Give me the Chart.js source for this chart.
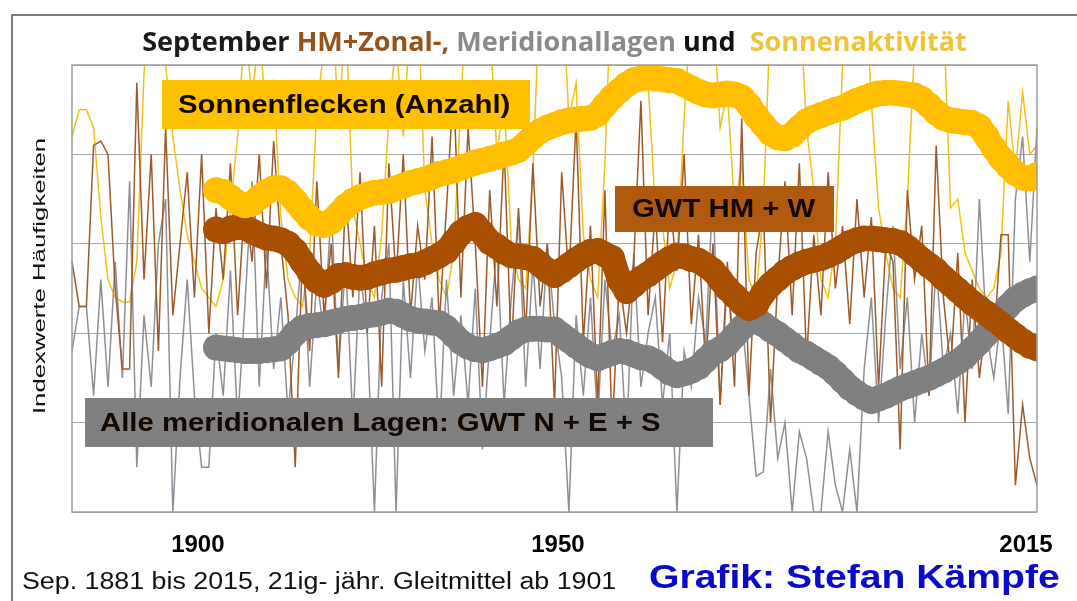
<!DOCTYPE html>
<html><head><meta charset="utf-8">
<script src="https://cdn.jsdelivr.net/npm/chart.js@4.4.1/dist/chart.umd.min.js"></script>
<style>
html,body{margin:0;padding:0;background:#fff;}
#wrap{position:relative;width:1077px;height:601px;overflow:hidden;background:#fff;}
#c{position:absolute;left:0;top:0;}
.frame{position:absolute;left:11px;top:14px;width:1200px;height:800px;border-top:2px solid #7c7c7c;border-left:2px solid #7c7c7c;}
.t{position:absolute;white-space:nowrap;font-family:"Liberation Sans",Arial,sans-serif;line-height:1;}
.title{left:72px;width:965px;top:27.4px;text-align:center;font-family:"Open Sans",sans-serif;font-weight:700;font-size:27px;}
.box{position:absolute;display:flex;align-items:center;font-family:"Liberation Sans",Arial,sans-serif;font-weight:700;font-size:25.5px;line-height:1;color:#120800;white-space:nowrap;}
.box span{display:inline-block;transform:scaleX(1.15);transform-origin:left center;}
.ytitle{left:39px;top:276px;font-size:16.5px;color:#111;transform:translate(-50%,-50%) rotate(-90deg) scaleX(1.56);}
.foot1{left:22px;top:569.6px;font-size:23.3px;color:#111;transform:scaleX(1.15);transform-origin:left top;}
.foot2{left:649px;top:559.3px;font-size:34px;font-weight:700;color:#0a0ac8;transform:scaleX(1.15);transform-origin:left top;}
</style>
</head><body>
<div id="wrap">
<canvas id="c" width="1077" height="601"></canvas>
<div class="frame"></div>
<div class="t title"><span style="color:#1b1b1b">September</span> <span style="color:#94521e">HM+Zonal-,</span> <span style="color:#8a8a8a">Meridionallagen</span> <span style="color:#111">und</span>&nbsp; <span style="color:#eec43c">Sonnenaktivität</span></div>
<div class="box" style="left:162px;top:80px;width:368px;height:49px;background:#ffc000;padding-left:16px;box-sizing:border-box;"><span>Sonnenflecken (Anzahl)</span></div>
<div class="box" style="left:615px;top:186px;width:219px;height:46px;background:#b05a10;padding-left:17px;box-sizing:border-box;"><span>GWT HM + W</span></div>
<div class="box" style="left:85px;top:398px;width:628px;height:49px;background:#808080;padding-left:15px;box-sizing:border-box;"><span>Alle meridionalen Lagen: GWT N + E + S</span></div>
<div class="t ytitle">Indexwerte Häufigkeiten</div>
<div class="t foot1">Sep. 1881 bis 2015, 21ig- jähr. Gleitmittel ab 1901</div>
<div class="t foot2">Grafik: Stefan Kämpfe</div>
</div>
<script>
// ---- data ----
const firstYear = 1881;          // yearly series start
const smoothFirstYear = 1901;    // 21-year running means start
const xTickYears = [1900, 1950, 2015];

// thin yearly lines (index values)
const sunspotsYearly = [
 4.2,4.5,4.5,4.3,3.3,2.6,2.4,2.35,2.35,2.8,
 4.9,6.0,5.8,5.0,4.2,3.6,3.1,2.8,2.5,2.4,
 2.3,2.6,3.4,4.2,5.5,4.6,5.4,4.4,4.8,3.3,
 2.6,2.4,2.3,2.9,4.5,5.2,6.0,4.3,5.6,3.4,
 3.0,2.6,2.4,3.1,4.4,5.3,4.2,5.6,5.8,3.6,
 3.0,2.6,2.4,2.9,4.6,6.0,5.8,6.2,5.5,4.0,
 4.6,3.0,2.6,2.5,3.8,5.9,6.5,5.7,6.0,4.4,
 4.8,3.1,2.6,2.4,3.9,6.2,6.8,6.5,6.3,5.6,
 4.8,3.4,3.2,2.5,2.8,4.4,5.7,5.8,5.5,5.7,
 4.3,4.7,3.4,3.9,2.6,2.4,3.4,5.6,6.5,6.2,
 6.1,5.8,4.3,3.6,2.6,2.4,3.0,5.0,6.5,5.6,
 6.2,4.6,3.4,2.9,2.5,2.4,3.5,5.2,5.5,6.0,
 6.2,5.6,3.4,3.5,2.9,2.7,2.5,2.4,2.5,2.9,
 4.6,3.8,4.7,4.0,4.1
];
const hmWestYearly = [
 2.8,2.3,2.3,4.1,4.15,4.0,2.5,1.6,1.6,4.8,
 2.6,4.0,1.8,4.3,2.2,3.0,3.8,2.4,4.0,2.0,
 3.4,2.6,3.9,2.2,3.5,2.8,4.0,2.5,4.15,3.0,
 2.2,0.5,2.9,1.8,3.7,2.2,3.0,1.5,3.6,2.4,
 3.8,2.0,3.2,1.4,3.9,2.6,4.0,2.2,3.2,2.6,
 4.2,2.1,3.4,4.8,2.4,4.3,3.0,1.4,3.6,2.3,
 4.1,1.8,3.4,2.0,3.9,2.3,3.0,1.2,3.8,2.6,
 4.4,1.9,3.2,1.2,3.6,0.9,2.6,2.0,2.8,4.6,
 2.2,3.4,1.9,3.5,2.7,4.0,2.1,3.1,1.6,3.0,
 1.2,2.8,1.4,4.4,1.3,2.9,3.4,1.0,2.6,3.7,
 2.2,3.9,1.7,3.1,2.2,3.8,2.5,3.2,2.1,3.5,
 2.4,3.3,1.4,3.0,2.8,0.7,3.6,2.6,3.2,1.3,
 4.1,2.4,1.6,2.9,1.0,2.6,1.5,2.2,1.9,3.1,
 3.1,0.3,1.2,0.6,0.3
];
const meridionalYearly = [
 1.8,2.3,2.3,1.3,2.6,1.4,2.8,1.5,3.7,0.5,
 2.2,1.4,3.0,3.5,0.0,1.5,2.6,1.3,0.5,0.5,
 2.0,1.3,2.7,1.0,2.3,3.7,1.4,3.0,1.6,2.4,
 1.1,2.0,3.0,1.4,2.6,2.0,3.4,1.6,2.8,1.0,
 2.7,2.0,0.0,2.4,3.0,0.0,2.6,1.5,2.8,1.8,
 2.4,0.8,2.6,1.3,2.2,1.2,2.5,0.7,1.9,3.0,
 1.2,2.4,3.3,1.4,2.8,1.6,3.0,2.1,1.5,0.0,
 2.2,1.3,2.4,1.0,2.6,1.8,2.2,0.8,2.9,1.4,
 2.0,2.4,1.2,2.0,0.0,1.8,1.4,2.4,1.9,3.6,
 1.2,2.6,1.8,2.2,1.3,0.4,0.45,1.6,0.6,1.0,
 0.0,0.9,0.6,0.0,0.0,0.9,0.3,0.0,0.7,0.0,
 1.6,2.4,1.0,2.2,3.2,1.6,2.4,1.0,2.0,1.3,
 2.8,1.6,2.0,1.1,2.4,1.6,3.5,2.0,1.5,2.2,
 1.1,3.5,4.2,2.8,4.3
];

// thick 21-year running means, 1901-2015
const sunspotsSmooth = [
 3.60,3.58,3.52,3.46,3.43,3.45,3.52,3.58,3.62,3.62,
 3.57,3.48,3.38,3.29,3.23,3.21,3.25,3.33,3.42,3.48,
 3.52,3.55,3.57,3.58,3.59,3.62,3.65,3.68,3.70,3.72,
 3.75,3.78,3.80,3.82,3.85,3.88,3.91,3.93,3.95,3.97,
 4.00,4.02,4.05,4.12,4.20,4.26,4.30,4.33,4.36,4.38,
 4.39,4.40,4.41,4.45,4.55,4.64,4.71,4.78,4.83,4.85,
 4.86,4.85,4.84,4.83,4.82,4.78,4.74,4.70,4.67,4.66,
 4.67,4.68,4.67,4.64,4.55,4.43,4.33,4.24,4.19,4.18,
 4.22,4.30,4.37,4.41,4.44,4.47,4.50,4.52,4.56,4.60,
 4.63,4.66,4.68,4.69,4.69,4.68,4.67,4.66,4.62,4.55,
 4.47,4.41,4.38,4.37,4.36,4.35,4.31,4.20,4.07,3.96,
 3.87,3.79,3.74,3.73,3.77
];
const hmWestSmooth = [
 3.16,3.14,3.17,3.19,3.18,3.14,3.10,3.07,3.06,3.04,
 3.00,2.92,2.80,2.68,2.59,2.54,2.58,2.64,2.65,2.63,
 2.62,2.63,2.66,2.68,2.70,2.71,2.73,2.75,2.76,2.79,
 2.83,2.87,2.92,3.02,3.12,3.18,3.21,3.12,3.02,2.97,
 2.91,2.87,2.86,2.85,2.83,2.77,2.70,2.65,2.70,2.76,
 2.82,2.87,2.91,2.92,2.88,2.84,2.60,2.47,2.54,2.61,
 2.66,2.72,2.78,2.83,2.87,2.86,2.83,2.81,2.76,2.70,
 2.60,2.50,2.42,2.34,2.28,2.32,2.45,2.54,2.61,2.68,
 2.73,2.77,2.80,2.82,2.84,2.87,2.91,2.96,3.01,3.04,
 3.06,3.06,3.05,3.04,3.03,3.01,2.96,2.89,2.82,2.76,
 2.70,2.62,2.55,2.48,2.41,2.34,2.28,2.22,2.16,2.10,
 2.03,1.97,1.91,1.86,1.83
];
const meridionalSmooth = [
 1.84,1.83,1.82,1.81,1.80,1.80,1.80,1.81,1.82,1.83,
 1.90,2.00,2.06,2.08,2.09,2.10,2.12,2.14,2.16,2.17,
 2.18,2.20,2.21,2.23,2.25,2.24,2.20,2.16,2.14,2.13,
 2.12,2.11,2.06,1.98,1.90,1.85,1.82,1.81,1.83,1.86,
 1.89,1.95,2.01,2.04,2.05,2.05,2.04,2.04,1.98,1.92,
 1.86,1.80,1.75,1.72,1.75,1.78,1.80,1.79,1.76,1.73,
 1.72,1.68,1.62,1.56,1.53,1.55,1.58,1.62,1.70,1.78,
 1.82,1.88,1.97,2.06,2.12,2.14,2.10,2.04,1.99,1.93,
 1.87,1.81,1.77,1.72,1.67,1.62,1.55,1.47,1.39,1.33,
 1.28,1.24,1.27,1.30,1.34,1.38,1.41,1.44,1.47,1.50,
 1.54,1.58,1.63,1.68,1.74,1.82,1.90,1.99,2.09,2.20,
 2.30,2.38,2.43,2.47,2.50
];

// ---- build points ----
const pts = (arr, y0) => arr.map((v, i) => ({x: y0 + i, y: v}));

const thick = (label, arr, color) => ({
  label, data: pts(arr, smoothFirstYear), borderColor: color, backgroundColor: color,
  borderWidth: 25, pointRadius: 13, pointBorderWidth: 0, pointBackgroundColor: color,
  borderJoinStyle: 'round', borderCapStyle: 'round', clip: 0, tension: 0
});
const thin = (label, arr, color) => ({
  label, data: pts(arr, firstYear), borderColor: color, borderWidth: 1.5,
  pointRadius: 0, tension: 0, clip: 1
});

const frame = {
  id: 'frame',
  afterDatasetsDraw(chart) {
    const a = chart.chartArea, ctx = chart.ctx;
    ctx.save();
    ctx.strokeStyle = '#9c9c9c';
    ctx.lineWidth = 1.5;
    ctx.strokeRect(a.left, a.top, a.right - a.left, a.bottom - a.top);
    ctx.restore();
  }
};

new Chart(document.getElementById('c'), {
  type: 'line',
  data: {
    datasets: [
      thick('Sonnenflecken 21j. Mittel', sunspotsSmooth, '#ffbf00'),
      thick('GWT HM + W 21j. Mittel', hmWestSmooth, '#a84f02'),
      thick('Meridional 21j. Mittel', meridionalSmooth, '#808080'),
      thin('GWT HM + W', hmWestYearly, '#9c5a2a'),
      thin('Meridional', meridionalYearly, '#8e8e98'),
      thin('Sonnenflecken', sunspotsYearly, '#f0c21a')
    ]
  },
  options: {
    responsive: false,
    devicePixelRatio: 1,
    animation: false,
    layout: { padding: { left: 0, right: 40, top: 65, bottom: 0 } },
    plugins: { legend: { display: false }, tooltip: { enabled: false }, title: { display: false } },
    scales: {
      x: {
        type: 'linear', min: 1881, max: 2015,
        grid: { display: false, drawTicks: false },
        border: { display: false },
        afterBuildTicks: s => { s.ticks = xTickYears.map(v => ({ value: v })); },
        afterFit: s => { s.height = 89; s.paddingLeft = 0; s.paddingRight = 0; },
        ticks: {
          autoSkip: false, maxRotation: 0, padding: 19, labelOffset: -11,
          color: '#000',
          font: { family: '"Liberation Sans", Arial, sans-serif', weight: 'bold', size: 24 },
          callback: v => String(v)
        }
      },
      y: {
        min: 0, max: 5,
        afterFit: s => { s.width = 72; s.paddingTop = 0; s.paddingBottom = 0; },
        grid: { color: '#a8a8a8', lineWidth: 1, drawTicks: false },
        border: { display: false },
        ticks: { display: false, stepSize: 1 }
      }
    }
  },
  plugins: [frame]
});
</script>
</body></html>
